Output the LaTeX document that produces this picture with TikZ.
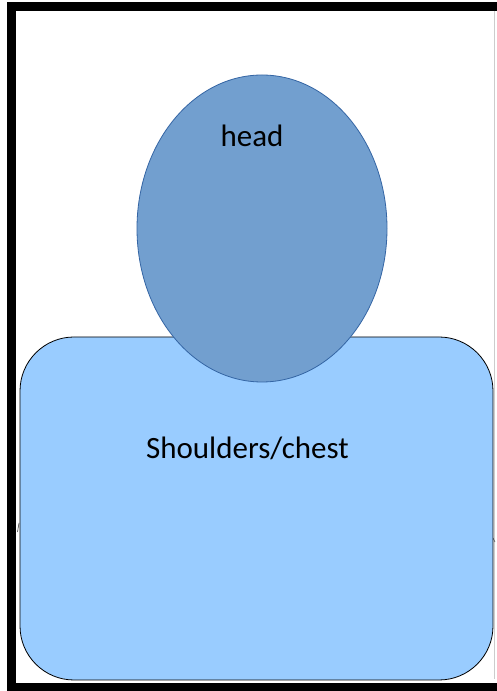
\documentclass[tikz,border=0pt]{standalone}
\usepackage{fontspec}
\setmainfont{Carlito}
\begin{document}
\begin{tikzpicture}[x=1pt,y=1pt,
  frame/.style={draw=black,line width=9pt},
  body/.style={draw=black,line width=0.8pt,fill=bodyblue,rounded corners=54pt},
  headshape/.style={draw=headedge,line width=0.8pt,fill=headblue},
  lbl/.style={font=\fontsize{31}{35}\selectfont,text=black,inner sep=0pt}]
\definecolor{bodyblue}{RGB}{153,204,255}
\definecolor{headblue}{RGB}{114,159,207}
\definecolor{headedge}{RGB}{52,101,164}
\useasboundingbox (0,0) rectangle (496,691);
\fill[white] (0,0) rectangle (496,691);
% frame (right side beyond the picture)
\draw[frame] (520,684.5) -- (11.5,684.5) -- (11.5,3) -- (520,3);
\draw[gray!40,line width=0.8pt] (494.5,680) -- (494.5,12);
% small artifacts
\draw[black!70,line width=0.6pt] (17.5,159) -- (19,168);
\draw[black!70,line width=0.6pt] (493,153) -- (495,149);
% body
\draw[body] (20,11) rectangle (493,354);
\node[lbl,anchor=base] (chest) at (247.5,232) {Shoulders/chest};
% head
\draw[headshape] (262,462.5) ellipse [x radius=125, y radius=153.5];
\node[lbl,anchor=base] (head) at (252,544) {head};
\end{tikzpicture}
\end{document}
